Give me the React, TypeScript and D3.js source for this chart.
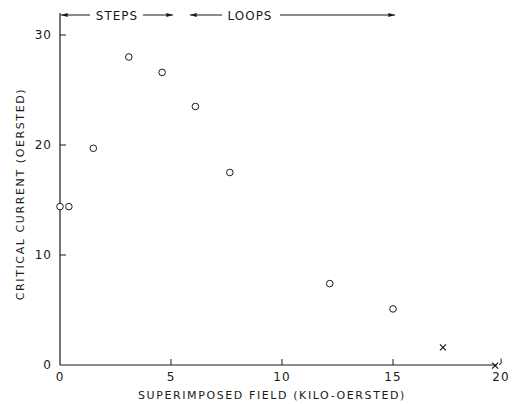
import React, { useRef, useEffect } from "react";
import * as d3 from "d3";

// field in kilo-oersted, critical current in oersted
const circleField = [0, 0.4, 1.5, 3.1, 4.6, 6.1, 7.65, 12.15, 15.0];
const circleCurrent = [14.4, 14.4, 19.7, 28.0, 26.6, 23.5, 17.5, 7.4, 5.1];
const crossField = [17.25, 19.6];
const crossCurrent = [1.6, -0.05];

const xTicks = [5, 10, 15];
const yTicks = [10, 20, 30];
const xTickLabels = ["0", "5", "10", "15", "20"];
const yTickLabels = ["0", "10", "20", "30"];

const App = () => {
  const ref = useRef<SVGSVGElement | null>(null);

  useEffect(() => {
    if (!ref.current) return;
    const svg = d3.select(ref.current);
    svg.selectAll("*").remove();

    const x = d3.scaleLinear().domain([0, 20]).range([60, 504]);
    const y = d3.scaleLinear().domain([0, 30]).range([365, 35]);
    const font = "DejaVu Sans, sans-serif";
    const ink = "#1a1a1a";

    // axes
    svg.append("line")
      .attr("x1", x(0)).attr("x2", x(0))
      .attr("y1", 13).attr("y2", y(0))
      .attr("stroke", ink).attr("stroke-width", 1.2);
    svg.append("line")
      .attr("x1", x(0)).attr("x2", 497)
      .attr("y1", y(0)).attr("y2", y(0))
      .attr("stroke", ink).attr("stroke-width", 1.2);

    svg.selectAll(".xt").data(xTicks).enter().append("line")
      .attr("x1", d => x(d)).attr("x2", d => x(d))
      .attr("y1", y(0)).attr("y2", y(0) - 6)
      .attr("stroke", ink).attr("stroke-width", 1);
    svg.selectAll(".yt").data(yTicks).enter().append("line")
      .attr("x1", x(0)).attr("x2", x(0) + 6)
      .attr("y1", d => y(d)).attr("y2", d => y(d))
      .attr("stroke", ink).attr("stroke-width", 1);

    // tick labels
    svg.selectAll(".xl").data(xTickLabels).enter().append("text")
      .attr("x", (d, i) => x(i * 5) - (i === 4 ? 3 : 0))
      .attr("y", y(0) + 16)
      .attr("text-anchor", "middle")
      .attr("font-family", font).attr("font-size", 12)
      .attr("letter-spacing", 1)
      .attr("fill", ink)
      .text(d => d);
    svg.selectAll(".yl").data(yTickLabels).enter().append("text")
      .attr("x", x(0) - 8)
      .attr("y", (d, i) => y(i * 10) + 4)
      .attr("text-anchor", "end")
      .attr("font-family", font).attr("font-size", 12)
      .attr("letter-spacing", 1)
      .attr("fill", ink)
      .text(d => d);

    // axis titles
    svg.append("text")
      .attr("x", 272).attr("y", 399)
      .attr("text-anchor", "middle")
      .attr("font-family", font).attr("font-size", 11)
      .attr("letter-spacing", 1.6)
      .attr("fill", ink)
      .text("SUPERIMPOSED  FIELD (KILO-OERSTED)");
    svg.append("text")
      .attr("transform", "translate(24,194) rotate(-90)")
      .attr("text-anchor", "middle")
      .attr("font-family", font).attr("font-size", 11)
      .attr("letter-spacing", 1.6)
      .attr("fill", ink)
      .text("CRITICAL  CURRENT (OERSTED)");

    // regime arrows at the top
    const defs = svg.append("defs");
    defs.append("marker")
      .attr("id", "ah").attr("viewBox", "0 0 10 6")
      .attr("refX", 10).attr("refY", 3)
      .attr("markerWidth", 10).attr("markerHeight", 4)
      .attr("markerUnits", "userSpaceOnUse")
      .attr("orient", "auto-start-reverse")
      .append("path").attr("d", "M0,0 L10,3 L0,6 Z").attr("fill", ink);

    const arrowY = 15;
    const seg = (x1: number, x2: number, start: boolean, end: boolean) => {
      const l = svg.append("line")
        .attr("x1", x1).attr("x2", x2)
        .attr("y1", arrowY).attr("y2", arrowY)
        .attr("stroke", ink).attr("stroke-width", 1);
      if (start) l.attr("marker-start", "url(#ah)");
      if (end) l.attr("marker-end", "url(#ah)");
    };
    seg(61, 90, true, false);
    seg(143, 173, false, true);
    seg(190, 222, true, false);
    seg(280, 395, false, true);

    svg.append("text")
      .attr("x", 117).attr("y", arrowY + 4.5)
      .attr("text-anchor", "middle")
      .attr("font-family", font).attr("font-size", 12)
      .attr("letter-spacing", 1)
      .attr("fill", ink)
      .text("STEPS");
    svg.append("text")
      .attr("x", 250).attr("y", arrowY + 4.5)
      .attr("text-anchor", "middle")
      .attr("font-family", font).attr("font-size", 12)
      .attr("letter-spacing", 1)
      .attr("fill", ink)
      .text("LOOPS");

    // data
    svg.selectAll(".pt").data(circleField).enter().append("circle")
      .attr("cx", d => x(d))
      .attr("cy", (d, i) => y(circleCurrent[i]))
      .attr("r", 3.3)
      .attr("fill", "white")
      .attr("stroke", ink).attr("stroke-width", 1);

    const s = 3;
    crossField.forEach((f, i) => {
      const cx = x(f), cy = y(crossCurrent[i]);
      svg.append("path")
        .attr("d", `M${cx - s},${cy - s}L${cx + s},${cy + s}M${cx - s},${cy + s}L${cx + s},${cy - s}`)
        .attr("stroke", ink).attr("stroke-width", 1.2).attr("fill", "none");
    });
    // small hook drawn beside the last cross
    const hx = x(crossField[1]) + 4, hy = y(crossCurrent[1]);
    svg.append("path")
      .attr("d", `M${hx + 2},${hy - 7}L${hx + 2},${hy - 2}L${hx},${hy - 1}`)
      .attr("stroke", ink).attr("stroke-width", 1).attr("fill", "none");
  }, []);

  return (
    <svg
      ref={ref}
      width={512}
      height={404}
      style={{ position: "absolute", left: 0, top: 0, background: "white" }}
    />
  );
};

export default App;
